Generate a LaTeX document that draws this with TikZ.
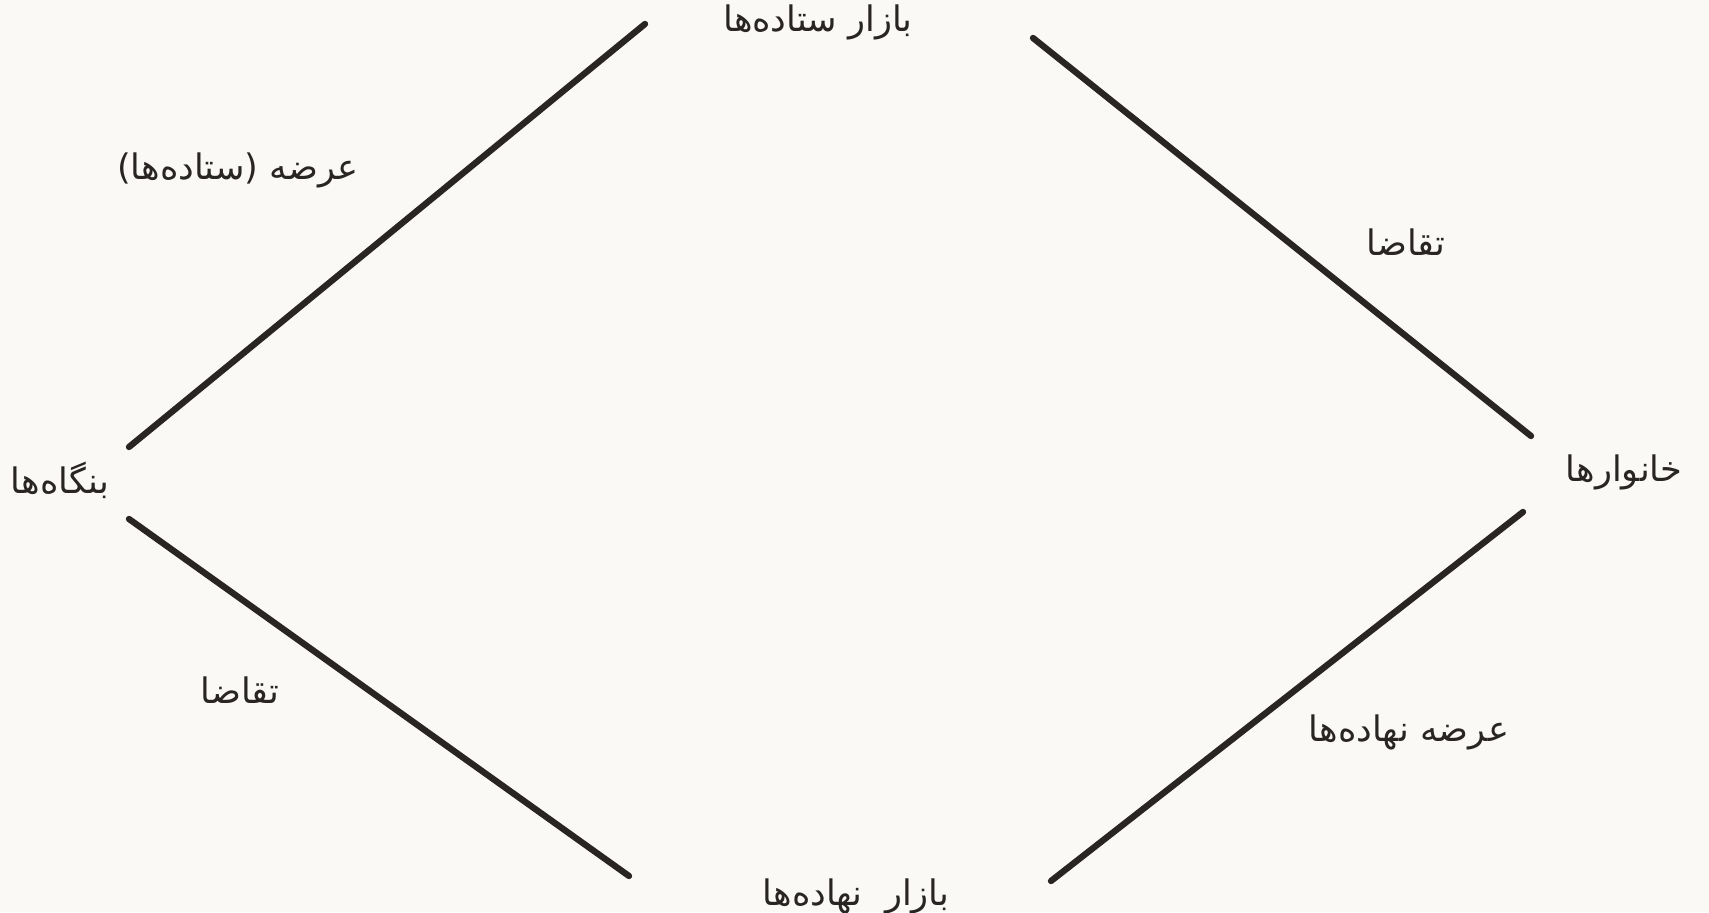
\documentclass[tikz,border=0pt]{standalone}
\usepackage{fontspec}
\usepackage{xcolor}
\usepackage{tikz}
\TeXXeTstate=1
\newfontfamily\arabicfont[Script=Arabic]{DejaVu Sans}
\definecolor{paper}{RGB}{250,249,245}
\definecolor{ink}{RGB}{40,37,35}

\begin{document}
\begin{tikzpicture}[
    lbl/.style={inner sep=1pt, text=ink, font=\arabicfont\fontsize{10}{12}\selectfont},
    link/.style={draw=ink, line width=1.8pt, line cap=round}
]
    \fill[paper] (0,0) rectangle (17.09,9.12);
    \useasboundingbox (0,0) rectangle (17.09,9.12);

    \node[lbl] (outmkt) at (8.18,8.90) {\beginR بازار ستاده‌ها\endR};
    \node[lbl] (inmkt) at (8.56,0.16) {\beginR بازار\ \ نهاده‌ها\endR};
    \node[lbl] (firms) at (0.60,4.32) {\beginR بنگاه‌ها\endR};
    \node[lbl] (homes) at (16.24,4.40) {\beginR خانوارها\endR};

    \node[lbl] (supout) at (2.38,7.42) {\beginR عرضه (ستاده‌ها)\endR};
    \node[lbl] (demout) at (14.06,6.70) {\beginR تقاضا\endR};
    \node[lbl] (demin) at (2.40,2.22) {\beginR تقاضا\endR};
    \node[lbl] (supin) at (14.09,1.80) {\beginR عرضه نهاده‌ها\endR};

    \coordinate (firmsup) at (1.29,4.65);
    \coordinate (firmsdn) at (1.29,3.93);
    \coordinate (homesup) at (15.31,4.76);
    \coordinate (homesdn) at (15.23,4.00);
    \coordinate (outl) at (6.45,8.88);
    \coordinate (outr) at (10.33,8.74);
    \coordinate (inl) at (6.29,0.36);
    \coordinate (inr) at (10.51,0.31);

    \draw[link] (firmsup) -- (outl);
    \draw[link] (outr) -- (homesup);
    \draw[link] (firmsdn) -- (inl);
    \draw[link] (homesdn) -- (inr);
\end{tikzpicture}
\end{document}
